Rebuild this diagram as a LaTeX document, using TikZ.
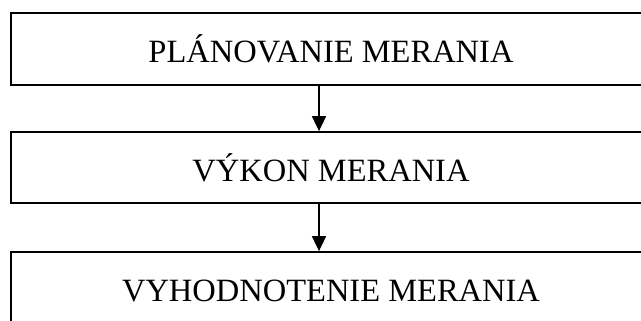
\documentclass[tikz,border=0pt]{standalone}
\usepackage{fontspec}
\setmainfont{Liberation Serif}
\usetikzlibrary{arrows.meta, positioning}

\begin{document}
\begin{tikzpicture}[x=1bp, y=-1bp,
    stagebox/.style={draw, line width=1.8bp, minimum width=640bp, inner sep=0pt,
        font=\fontsize{32.5bp}{36bp}\selectfont},
    flowarrow/.style={line width=1.8bp, -{Triangle[width=14bp, length=15bp]}}]
    \useasboundingbox (0, 0) rectangle (641, 320);

    % etapy merania
    \node[stagebox, minimum height=72bp] (plan) at (331, 49) {PLÁNOVANIE MERANIA};
    \node[stagebox, minimum height=71bp] (vykon) at (331, 167.5) {VÝKON MERANIA};
    \node[stagebox, minimum height=78bp] (vyhod) at (331, 291) {VYHODNOTENIE MERANIA};

    % sipky
    \draw[flowarrow] ([xshift=-12bp]plan.south) -- ([xshift=-12bp]vykon.north);
    \draw[flowarrow] ([xshift=-12bp]vykon.south) -- ([xshift=-12bp]vyhod.north);
\end{tikzpicture}
\end{document}
